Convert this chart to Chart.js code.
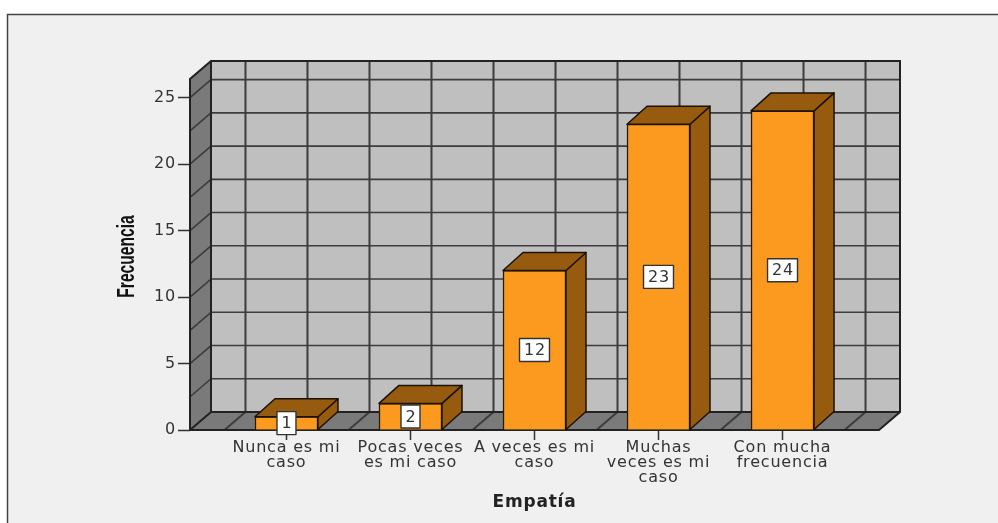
<!DOCTYPE html>
<html>
<head>
<meta charset="utf-8">
<title>Empatía</title>
<script src="https://cdn.jsdelivr.net/npm/chart.js@4"></script>
<style>
  html, body { margin: 0; padding: 0; background: #fff; }
  canvas { display: block; filter: blur(0.4px); }
</style>
</head>
<body>
<canvas id="chart" width="998" height="523"></canvas>
<script>
const categorias = [
  ['Nunca es mi', 'caso'],
  ['Pocas veces', 'es mi caso'],
  ['A veces es mi', 'caso'],
  ['Muchas', 'veces es mi', 'caso'],
  ['Con mucha', 'frecuencia']
];
const frecuencias = [1, 2, 12, 23, 24];
const yTicks = [0, 5, 10, 15, 20, 25];

// profundidad del efecto 3D
const DX = 21, DY = 18;
const LINE = '#3c3c3c';

function poly(ctx, pts, fill, stroke, lw) {
  ctx.beginPath();
  pts.forEach((p, i) => i ? ctx.lineTo(p[0], p[1]) : ctx.moveTo(p[0], p[1]));
  ctx.closePath();
  if (fill) { ctx.fillStyle = fill; ctx.fill(); }
  if (stroke) { ctx.strokeStyle = stroke; ctx.lineWidth = lw; ctx.stroke(); }
}

function seg(ctx, x1, y1, x2, y2) {
  ctx.beginPath();
  ctx.moveTo(x1, y1);
  ctx.lineTo(x2, y2);
  ctx.stroke();
}

const box3d = {
  id: 'box3d',
  beforeDraw(chart) {
    const ctx = chart.ctx;
    ctx.save();
    ctx.fillStyle = '#fff';
    ctx.fillRect(0, 0, 998, 523);
    ctx.fillStyle = '#f0f0f0';
    ctx.fillRect(7, 14, 991, 509);
    ctx.strokeStyle = '#444';
    ctx.lineWidth = 1.5;
    ctx.beginPath();
    ctx.moveTo(7.5, 523);
    ctx.lineTo(7.5, 14.5);
    ctx.lineTo(998, 14.5);
    ctx.stroke();
    ctx.restore();
    // el texto de la referencia es mas ancho de lo normal
    ctx.letterSpacing = '0.8px';
  },
  beforeDatasetsDraw(chart) {
    const ctx = chart.ctx;
    const { left, right, top, bottom } = chart.chartArea;
    const x = chart.scales.x, y = chart.scales.y;
    ctx.save();
    // pared del fondo, pared izquierda y piso
    poly(ctx, [[left + DX, top - DY], [right + DX, top - DY], [right + DX, bottom - DY], [left + DX, bottom - DY]], '#bfbfbf');
    poly(ctx, [[left, top], [left + DX, top - DY], [left + DX, bottom - DY], [left, bottom]], '#7a7a7a');
    poly(ctx, [[left, bottom], [left + DX, bottom - DY], [right + DX, bottom - DY], [right, bottom]], '#7a7a7a');

    ctx.strokeStyle = LINE;
    ctx.lineWidth = 1.6;
    // lineas cada 2.5 unidades en las dos paredes
    for (let v = 2.5; v < y.max; v += 2.5) {
      const py = y.getPixelForValue(v);
      seg(ctx, left, py, left + DX, py - DY);
      seg(ctx, left + DX, py - DY, right + DX, py - DY);
    }
    // lineas cada media categoria en fondo y piso
    ctx.lineWidth = 2;
    for (let v = -0.5; v < x.max; v += 0.5) {
      const px = x.getPixelForValue(v);
      seg(ctx, px, bottom, px + DX, bottom - DY);
      seg(ctx, px + DX, bottom - DY, px + DX, top - DY);
    }
    // aristas de la caja
    ctx.lineWidth = 2;
    ctx.strokeStyle = '#222';
    ctx.beginPath();
    ctx.moveTo(left, bottom);
    ctx.lineTo(left, top);
    ctx.lineTo(left + DX, top - DY);
    ctx.lineTo(right + DX, top - DY);
    ctx.lineTo(right + DX, bottom - DY);
    ctx.lineTo(right, bottom);
    ctx.lineTo(left, bottom);
    ctx.moveTo(left, bottom);
    ctx.lineTo(left + DX, bottom - DY);
    ctx.lineTo(left + DX, top - DY);
    ctx.moveTo(left + DX, bottom - DY);
    ctx.lineTo(right + DX, bottom - DY);
    ctx.stroke();
    ctx.restore();
  },
  afterDatasetsDraw(chart) {
    const ctx = chart.ctx;
    const meta = chart.getDatasetMeta(0);
    ctx.save();
    meta.data.forEach((bar, i) => {
      const l = bar.x - bar.width / 2, r = bar.x + bar.width / 2;
      const t = bar.y, b = bar.base;
      const dx = DX - 1, dy = DY;
      ctx.lineJoin = 'round';
      poly(ctx, [[r, t], [r + dx, t - dy], [r + dx, b - dy], [r, b]], '#975b10', '#1c1204', 1.5);
      poly(ctx, [[l, t], [l + dx, t - dy], [r + dx, t - dy], [r, t]], '#975b10', '#1c1204', 1.5);

      // etiqueta de valor
      const txt = String(frecuencias[i]);
      ctx.font = '16px "DejaVu Sans"';
      const w = ctx.measureText(txt).width + 8;
      const h = 23;
      const cy = (t + b) / 2;
      ctx.fillStyle = '#fff';
      ctx.strokeStyle = '#333';
      ctx.lineWidth = 1.4;
      ctx.fillRect(bar.x - w / 2, cy - h / 2, w, h);
      ctx.strokeRect(bar.x - w / 2, cy - h / 2, w, h);
      ctx.fillStyle = '#333';
      ctx.textAlign = 'center';
      ctx.textBaseline = 'middle';
      ctx.fillText(txt, bar.x + 0.5, cy + 1);
    });
    ctx.restore();

    // titulo del eje Y, angosto como en la referencia
    ctx.save();
    ctx.translate(127, 256.5);
    ctx.rotate(-Math.PI / 2);
    ctx.scale(0.65, 1);
    ctx.letterSpacing = '0px';
    ctx.font = 'bold 24px "Liberation Sans"';
    ctx.fillStyle = '#111';
    ctx.textAlign = 'center';
    ctx.textBaseline = 'middle';
    ctx.fillText('Frecuencia', 0, 0);
    ctx.restore();
  }
};

new Chart(document.getElementById('chart'), {
  type: 'bar',
  data: {
    datasets: [{
      data: frecuencias.map((v, i) => ({ x: i, y: v })),
      backgroundColor: '#fb9a1e',
      borderColor: '#2a1804',
      borderWidth: 1.5,
      barThickness: 63
    }]
  },
  options: {
    responsive: false,
    animation: false,
    devicePixelRatio: 1,
    layout: { padding: { top: 79, right: 119, bottom: 0, left: 0 } },
    plugins: { legend: { display: false }, tooltip: { enabled: false } },
    scales: {
      x: {
        type: 'linear',
        offset: false,
        min: -0.778,
        max: 4.778,
        afterBuildTicks(scale) { scale.ticks = categorias.map((c, i) => ({ value: i })); },
        afterFit(scale) { scale.height = 93; },
        border: { display: false },
        grid: { offset: false, drawOnChartArea: false, tickLength: 10, tickColor: '#333', tickWidth: 1.5 },
        ticks: {
          autoSkip: false,
          maxRotation: 0,
          padding: 1,
          color: '#333',
          font: { family: '"DejaVu Sans"', size: 16, lineHeight: 0.91 },
          callback: v => categorias[v]
        },
        title: {
          display: true,
          text: 'Empatía',
          color: '#222',
          font: { family: '"DejaVu Sans"', size: 17, weight: 'bold' },
          padding: { top: 0, bottom: 10 }
        }
      },
      y: {
        min: 0,
        max: 26.4,
        afterBuildTicks(scale) { scale.ticks = yTicks.map(v => ({ value: v })); },
        afterFit(scale) { scale.width = 190; },
        border: { display: false },
        grid: { drawOnChartArea: false, tickLength: 12, tickColor: '#333', tickWidth: 1.5 },
        ticks: {
          padding: 2,
          color: '#333',
          font: { family: '"DejaVu Sans"', size: 16 }
        }
      }
    }
  },
  plugins: [box3d]
});
</script>
</body>
</html>
